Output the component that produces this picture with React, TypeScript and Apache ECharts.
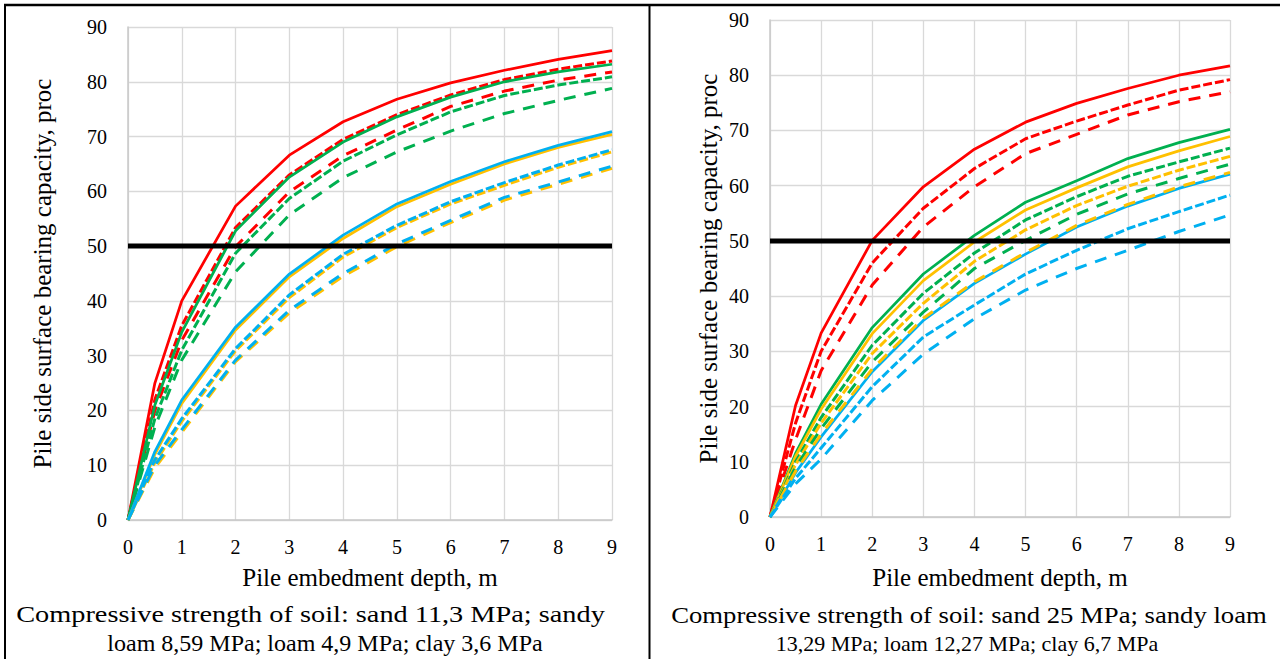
import React, { useEffect, useRef } from "react";
import * as echarts from "echarts";

const depths = [0, 0.5, 1, 2, 3, 4, 5, 6, 7, 8, 9];
const xTicks = [0, 1, 2, 3, 4, 5, 6, 7, 8, 9];
const yTicks = [0, 10, 20, 30, 40, 50, 60, 70, 80, 90];
const thresholdX = [0, 9];
const thresholdY = [50, 50];

// Left chart
const redSolidL = [0, 25, 40, 57.3, 66.6, 72.7, 76.8, 79.8, 82.1, 84.1, 85.7];
const redSdL = [0, 22, 35.5, 53.4, 63.0, 69.5, 74.0, 77.6, 80.4, 82.3, 83.8];
const greenSolidL = [0, 21, 34.3, 52.8, 62.6, 69.0, 73.6, 77.2, 80.0, 81.8, 83.2];
const redLdL = [0, 20, 32.8, 49.9, 59.9, 66.5, 71.2, 75.5, 78.3, 80.3, 81.8];
const greenSdL = [0, 18.5, 31.0, 48.7, 58.7, 65.5, 70.3, 74.5, 77.5, 79.4, 80.9];
const greenLdL = [0, 17, 29.2, 45.3, 55.7, 62.5, 67.2, 71.0, 74.2, 76.6, 78.8];
const yellowSolidL = [0, 12, 21.3, 34.7, 44.4, 51.4, 57.2, 61.3, 65.0, 68.0, 70.4];
const blueSolidL = [0, 12.5, 21.9, 35.2, 44.9, 52.0, 57.7, 61.8, 65.4, 68.4, 70.9];
const yellowSdL = [0, 10.5, 18, 30.9, 40.6, 48.0, 53.4, 57.7, 61.1, 64.4, 67.2];
const blueSdL = [0, 11, 18.5, 31.3, 41.1, 48.5, 53.8, 58.1, 61.6, 64.8, 67.6];
const yellowLdL = [0, 9.5, 16, 28.9, 37.8, 44.5, 49.9, 54.3, 58.4, 61.3, 64.2];
const blueLdL = [0, 10, 16.5, 29.2, 38.3, 45.0, 50.4, 54.7, 58.9, 61.7, 64.6];

// Right chart
const redSolidR = [0, 20.2, 33.3, 50.1, 59.8, 66.6, 71.5, 74.9, 77.6, 80.0, 81.7];
const redSdR = [0, 17, 30, 46, 55.9, 63.1, 68.5, 71.7, 74.6, 77.3, 79.2];
const redLdR = [0, 14, 26.5, 42, 52.5, 59.8, 65.8, 69.3, 72.8, 75.2, 77.0];
const greenSolidR = [0, 11.5, 20.4, 34.3, 44.0, 51.0, 57.0, 60.9, 64.9, 67.8, 70.2];
const yellowSolidR = [0, 11, 19.5, 33.2, 42.8, 49.8, 55.6, 59.6, 63.4, 66.3, 68.9];
const greenSdR = [0, 10, 18, 31.1, 40.5, 47.8, 53.8, 58.0, 61.7, 64.3, 66.8];
const yellowSdR = [0, 9.5, 17, 29.6, 38.7, 46.3, 52.0, 56.4, 59.9, 62.8, 65.3];
const greenLdR = [0, 9, 16, 28.1, 37.1, 45.0, 50.1, 54.8, 58.5, 61.3, 63.9];
const blueSolidR = [0, 8, 14.5, 26.3, 35.6, 42.3, 47.6, 52.5, 56.3, 59.5, 62.1];
const yellowLdR = [0, 8.3, 15, 26.8, 36, 42.6, 47.9, 52.8, 56.6, 59.8, 62.4];
const blueSdR = [0, 7, 12.5, 23.6, 32.6, 38.4, 44.0, 48.3, 52.2, 55.3, 58.3];
const blueLdR = [0, 6, 10.5, 21.1, 29.5, 35.9, 41.1, 45.0, 48.3, 51.7, 54.7];

const yTitle = "Pile side surface bearing capacity, proc";
const xTitle = "Pile embedment depth, m";
const captionL = [
  "Compressive strength of soil: sand 11,3 MPa; sandy",
  "loam 8,59 MPa; loam 4,9 MPa; clay 3,6 MPa",
];
const captionR = [
  "Compressive strength of soil: sand 25 MPa; sandy loam",
  "13,29 MPa; loam 12,27 MPa; clay 6,7 MPa",
];

const RED = "#FF0000";
const GREEN = "#00B050";
const BLUE = "#00B0F0";
const YELLOW = "#FFC000";
const FONT = "'Liberation Serif', 'Times New Roman', serif";

type Style = "solid" | "sd" | "ld";

function mk(name: string, vals: number[], color: string, style: Style, idx: number) {
  let type: any = "solid";
  let width = 2.75;
  if (style === "sd") {
    type = [9, 3];
    width = 3;
  } else if (style === "ld") {
    type = [12, 9];
    width = 3;
  }
  return {
    name,
    type: "line",
    xAxisIndex: idx,
    yAxisIndex: idx,
    data: depths.map((d, i) => [d, vals[i]]),
    showSymbol: false,
    symbol: "none",
    lineStyle: { color, width, type, cap: "butt" },
    z: 3,
  };
}

function threshold(idx: number) {
  return {
    name: "threshold" + idx,
    type: "line",
    xAxisIndex: idx,
    yAxisIndex: idx,
    data: thresholdX.map((x, i) => [x, thresholdY[i]]),
    showSymbol: false,
    symbol: "none",
    lineStyle: { color: "#000", width: 5, type: "solid" },
    z: 5,
  };
}

function xAxisCfg(idx: number, gap: number) {
  return {
    type: "value",
    gridIndex: idx,
    min: xTicks[0],
    max: xTicks[xTicks.length - 1],
    interval: 1,
    name: xTitle,
    nameLocation: "middle",
    nameGap: gap,
    nameTextStyle: { fontFamily: FONT, fontSize: 25, color: "#000" },
    axisLine: { show: true, lineStyle: { color: "#c8c8c8", width: 1.5 } },
    axisTick: { show: false },
    axisLabel: { fontFamily: FONT, fontSize: 20, color: "#000", margin: 17 },
    splitLine: { show: true, lineStyle: { color: "#d9d9d9", width: 1.3 } },
  };
}

function yAxisCfg(idx: number, gap: number) {
  return {
    type: "value",
    gridIndex: idx,
    min: yTicks[0],
    max: yTicks[yTicks.length - 1],
    interval: 10,
    name: yTitle,
    nameLocation: "middle",
    nameGap: gap,
    nameTextStyle: { fontFamily: FONT, fontSize: 25, color: "#000" },
    axisLine: { show: true, lineStyle: { color: "#c8c8c8", width: 1.5 } },
    axisTick: { show: false },
    axisLabel: { fontFamily: FONT, fontSize: 20, color: "#000", margin: 21 },
    splitLine: { show: true, lineStyle: { color: "#d9d9d9", width: 1.3 } },
  };
}

const CAP_SIZE = 24;

function measure(text: string, size: number): number {
  const c = document.createElement("canvas").getContext("2d");
  if (!c) return text.length * size * 0.42;
  c.font = `${size}px ${FONT}`;
  return c.measureText(text).width;
}

function justifiedLine(text: string, x0: number, x1: number, y: number) {
  const w = measure(text, CAP_SIZE);
  const sx = Math.max(1, (x1 - x0) / w);
  return {
    type: "text",
    x: (x0 + x1) / 2,
    y,
    scaleX: sx,
    style: {
      text,
      fontFamily: FONT,
      fontSize: CAP_SIZE,
      fill: "#000",
      textAlign: "center",
      textVerticalAlign: "middle",
    },
  };
}

function centeredLine(text: string, x: number, y: number, size: number) {
  return {
    type: "text",
    x,
    y,
    style: {
      text,
      fontFamily: FONT,
      fontSize: size,
      fill: "#000",
      textAlign: "center",
      textVerticalAlign: "middle",
    },
  };
}

export default function App() {
  const ref = useRef<HTMLDivElement>(null);
  useEffect(() => {
    if (!ref.current) return;
    const chart = echarts.init(ref.current, null, { renderer: "svg" });
    const series: any[] = [
      mk("redSolidL", redSolidL, RED, "solid", 0),
      mk("redSdL", redSdL, RED, "sd", 0),
      mk("redLdL", redLdL, RED, "ld", 0),
      mk("greenSolidL", greenSolidL, GREEN, "solid", 0),
      mk("greenSdL", greenSdL, GREEN, "sd", 0),
      mk("greenLdL", greenLdL, GREEN, "ld", 0),
      mk("yellowSolidL", yellowSolidL, YELLOW, "solid", 0),
      mk("blueSolidL", blueSolidL, BLUE, "solid", 0),
      mk("yellowSdL", yellowSdL, YELLOW, "sd", 0),
      mk("blueSdL", blueSdL, BLUE, "sd", 0),
      mk("yellowLdL", yellowLdL, YELLOW, "ld", 0),
      mk("blueLdL", blueLdL, BLUE, "ld", 0),
      threshold(0),
      mk("redSolidR", redSolidR, RED, "solid", 1),
      mk("redSdR", redSdR, RED, "sd", 1),
      mk("redLdR", redLdR, RED, "ld", 1),
      mk("greenSolidR", greenSolidR, GREEN, "solid", 1),
      mk("yellowSolidR", yellowSolidR, YELLOW, "solid", 1),
      mk("greenSdR", greenSdR, GREEN, "sd", 1),
      mk("yellowSdR", yellowSdR, YELLOW, "sd", 1),
      mk("greenLdR", greenLdR, GREEN, "ld", 1),
      mk("blueSolidR", blueSolidR, BLUE, "solid", 1),
      mk("yellowLdR", yellowLdR, YELLOW, "ld", 1),
      mk("blueSdR", blueSdR, BLUE, "sd", 1),
      mk("blueLdR", blueLdR, BLUE, "ld", 1),
      threshold(1),
    ];
    chart.setOption({
      animation: false,
      backgroundColor: "#fff",
      textStyle: { fontFamily: FONT },
      grid: [
        { left: 128, top: 27, width: 484, height: 493, containLabel: false },
        { left: 770, top: 20, width: 460, height: 497, containLabel: false },
      ],
      xAxis: [xAxisCfg(0, 45), xAxisCfg(1, 48)],
      yAxis: [yAxisCfg(0, 73), yAxisCfg(1, 49)],
      series,
      graphic: [
        { type: "line", shape: { x1: 4, y1: 5, x2: 1280, y2: 5 }, style: { stroke: "#000", lineWidth: 2.5 } },
        { type: "line", shape: { x1: 5, y1: 4, x2: 5, y2: 659 }, style: { stroke: "#000", lineWidth: 2 } },
        { type: "line", shape: { x1: 649.5, y1: 4, x2: 649.5, y2: 659 }, style: { stroke: "#000", lineWidth: 2 } },
        justifiedLine(captionL[0], 16, 605, 614),
        centeredLine(captionL[1], 325, 643, CAP_SIZE),
        justifiedLine(captionR[0], 671, 1267, 614),
        centeredLine(captionR[1], 967, 643, 22),
      ],
    });
    return () => chart.dispose();
  }, []);
  return (
    <div
      ref={ref}
      style={{ position: "fixed", left: 0, top: 0, width: 1280, height: 659 }}
    />
  );
}
